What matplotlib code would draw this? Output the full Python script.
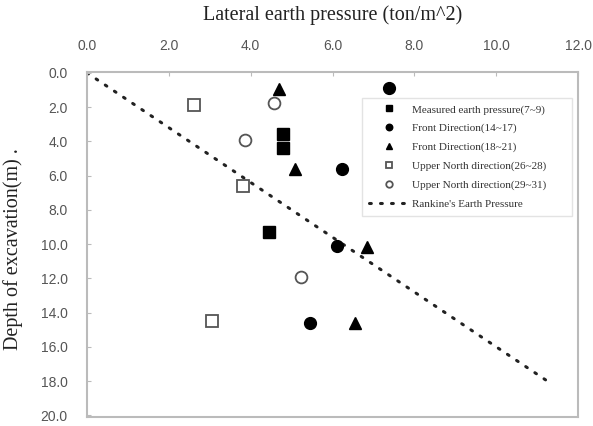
import matplotlib
matplotlib.use("Agg")
import matplotlib.pyplot as plt

# Data (x = lateral earth pressure, y = depth)
measured_x = [4.79, 4.79, 4.45]
measured_y = [3.6, 4.4, 9.3]
front1_x = [7.38, 6.23, 6.11, 5.45]
front1_y = [0.9, 5.6, 10.1, 14.6]
front2_x = [4.69, 5.09, 6.85, 6.55]
front2_y = [0.95, 5.6, 10.2, 14.6]
north1_x = [2.62, 3.81, 3.06]
north1_y = [1.9, 6.6, 14.5]
north2_x = [4.57, 3.86, 5.23]
north2_y = [1.75, 3.9, 11.9]
rankine_x = [0.0, 11.25]
rankine_y = [0.0, 18.0]

xticks = [0, 2, 4, 6, 8, 10, 12]
yticks = [0, 2, 4, 6, 8, 10, 12, 14, 16, 18, 20]

serif = ["Liberation Serif", "DejaVu Serif"]
sans = ["Liberation Sans", "DejaVu Sans"]

fig = plt.figure(figsize=(5.93, 4.26), dpi=100)
ax = fig.add_axes([87/593, 1-417/426, (578-87)/593, (417-72)/426])

ms = 8.5
ax.plot(measured_x, measured_y, ls="none", marker="s", ms=ms, mfc="black", mec="black",
        label="Measured earth pressure(7~9)")
ax.plot(front1_x, front1_y, ls="none", marker="o", ms=ms, mfc="black", mec="black",
        label="Front Direction(14~17)")
ax.plot(front2_x, front2_y, ls="none", marker="^", ms=ms, mfc="black", mec="black",
        label="Front Direction(18~21)")
ax.plot(north1_x, north1_y, ls="none", marker="s", ms=ms, mfc="white", mec="#555555", mew=1.3,
        label="Upper North direction(26~28)")
ax.plot(north2_x, north2_y, ls="none", marker="o", ms=ms, mfc="white", mec="#555555", mew=1.3,
        label="Upper North direction(29~31)")
ax.plot(rankine_x, rankine_y, color="#222222", lw=2.2, ls=(0, (0.6, 3)),
        dash_capstyle="round", label="Rankine's Earth Pressure", zorder=1)

ax.set_xlim(0, 12)
ax.set_ylim(20.1, -0.05)
ax.set_xticks(xticks)
ax.set_yticks(yticks)
ax.set_xticklabels([f"{v:.1f}" for v in xticks], family=sans, fontsize=10, color="#555555")
ax.set_yticklabels([f"{v:.1f}" for v in yticks], family=sans, fontsize=10, color="#555555")
ax.xaxis.tick_top()
ax.tick_params(axis="both", direction="in", length=3, color="#bbbbbb", width=0.8)
ax.tick_params(axis="x", pad=14)
ax.tick_params(axis="y", pad=14)
for s in ax.spines.values():
    s.set_color("#bbbbbb")
    s.set_linewidth(1.5)

fig.text(333/593, 1-15/426, "Lateral earth pressure (ton/m^2)", family=serif, fontsize=14.5,
         ha="center", va="center", color="#222222")
fig.text(13/593, 1-249/426, "Depth of excavation(m) .", family=serif, fontsize=14.5,
         ha="center", va="center", rotation=90, color="#222222")

leg = ax.legend(loc="upper left", bbox_to_anchor=(0.56, 0.59, 0.428, 0.335), mode="expand",
                borderaxespad=0,
                prop={"family": serif, "size": 8},
                frameon=True, fancybox=False, edgecolor="#dddddd", markerscale=0.55,
                handlelength=3.6, labelspacing=0.8, borderpad=0.6, handletextpad=0.3)
leg.get_frame().set_linewidth(1.0)
for t in leg.get_texts():
    t.set_color("#333333")

fig.savefig("out.png", dpi=100)
